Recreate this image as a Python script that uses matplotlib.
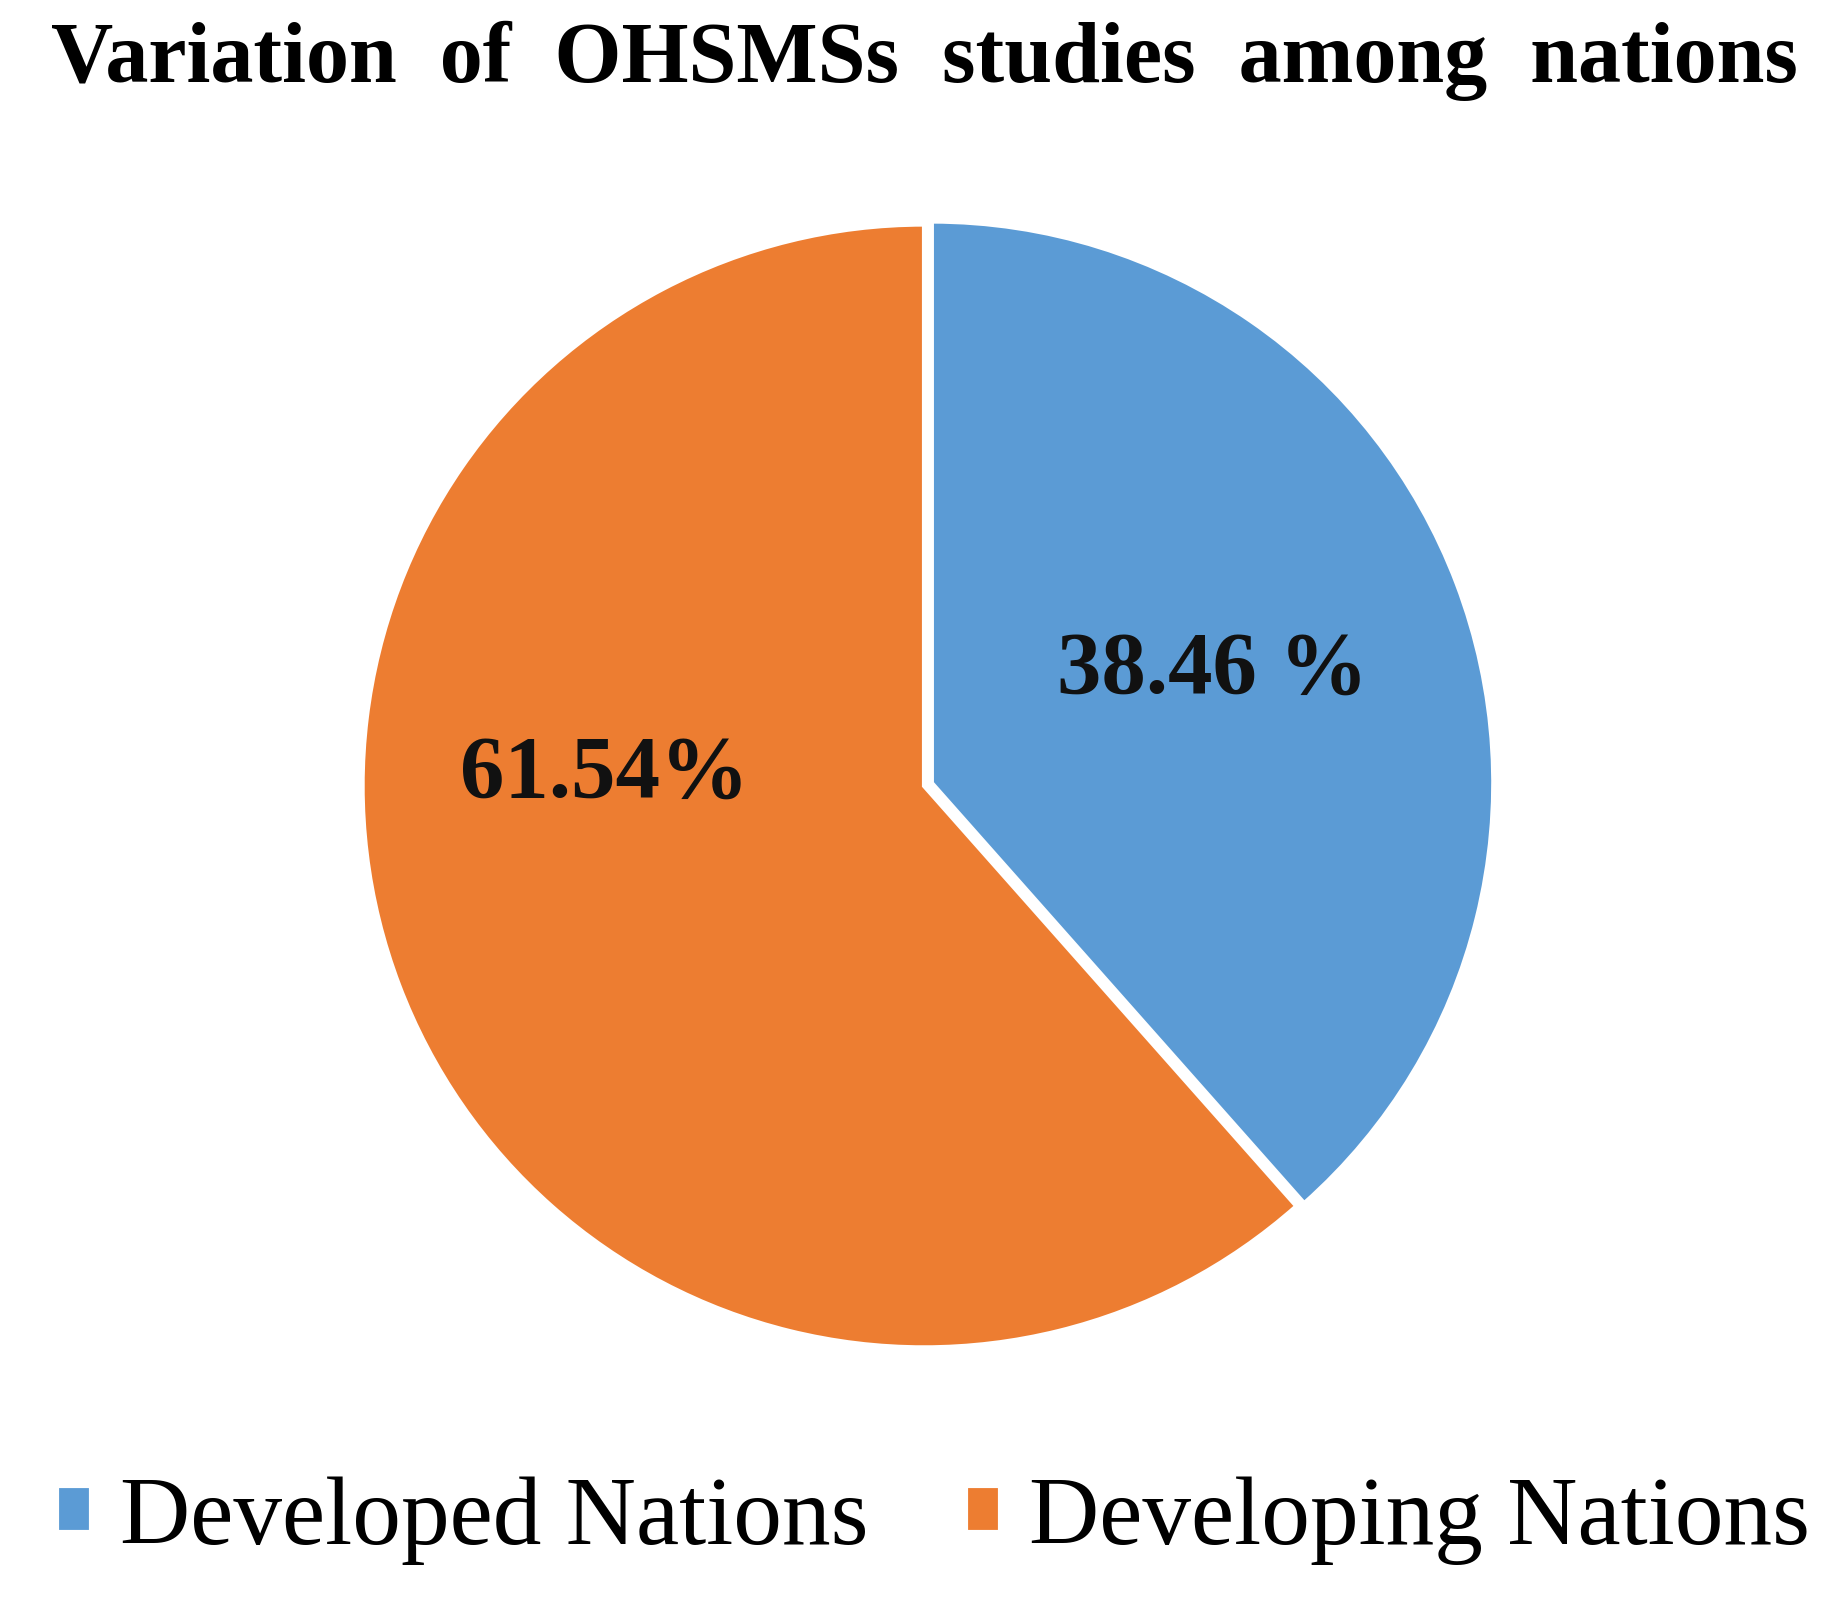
import matplotlib
matplotlib.use("Agg")
import matplotlib.pyplot as plt
import numpy as np

categories = ["Developed Nations", "Developing Nations"]
values = [38.46, 61.54]
label_texts = ["38.46 %", "61.54%"]
colors = ["#5B9BD5", "#ED7D31"]

plt.rcParams['font.family'] = ['Liberation Serif', 'DejaVu Serif']
fig = plt.figure(figsize=(18.48, 16.04), dpi=100)
ax = fig.add_axes([0.190, 0.153, 0.620, 0.714])
wedges, _ = ax.pie(values, colors=colors, startangle=90, counterclock=False,
                   explode=[0.015, 0], wedgeprops=dict(edgecolor='white', linewidth=3))
ax.set_aspect('equal')
ax.set_xlim(-1.02, 1.02); ax.set_ylim(-1.02, 1.02)
ax.axis('off')

th = np.deg2rad(90 - 360 * values[0] / 100 / 2)
ax.text(0.55 * np.cos(th), 0.55 * np.sin(th) + 0.01, label_texts[0], ha='center', va='center',
        fontsize=64, fontweight='bold', color='#111111')
th2 = np.deg2rad(178)
ax.text(0.57 * np.cos(th2), 0.57 * np.sin(th2) + 0.0, label_texts[1], ha='center', va='center',
        fontsize=64, fontweight='bold', color='#111111')

fig.text(0.5, 0.962, "Variation  of  OHSMSs  studies  among  nations", ha='center', va='center',
         fontsize=62, fontweight='bold')
leg = fig.legend(wedges, categories, loc='center', bbox_to_anchor=(0.505, 0.052), ncol=2,
                 frameon=False, fontsize=70, handlelength=0.35, handleheight=0.35,
                 handletextpad=0.3, columnspacing=1.0)
fig.savefig("out.png", dpi=100, facecolor='white')
